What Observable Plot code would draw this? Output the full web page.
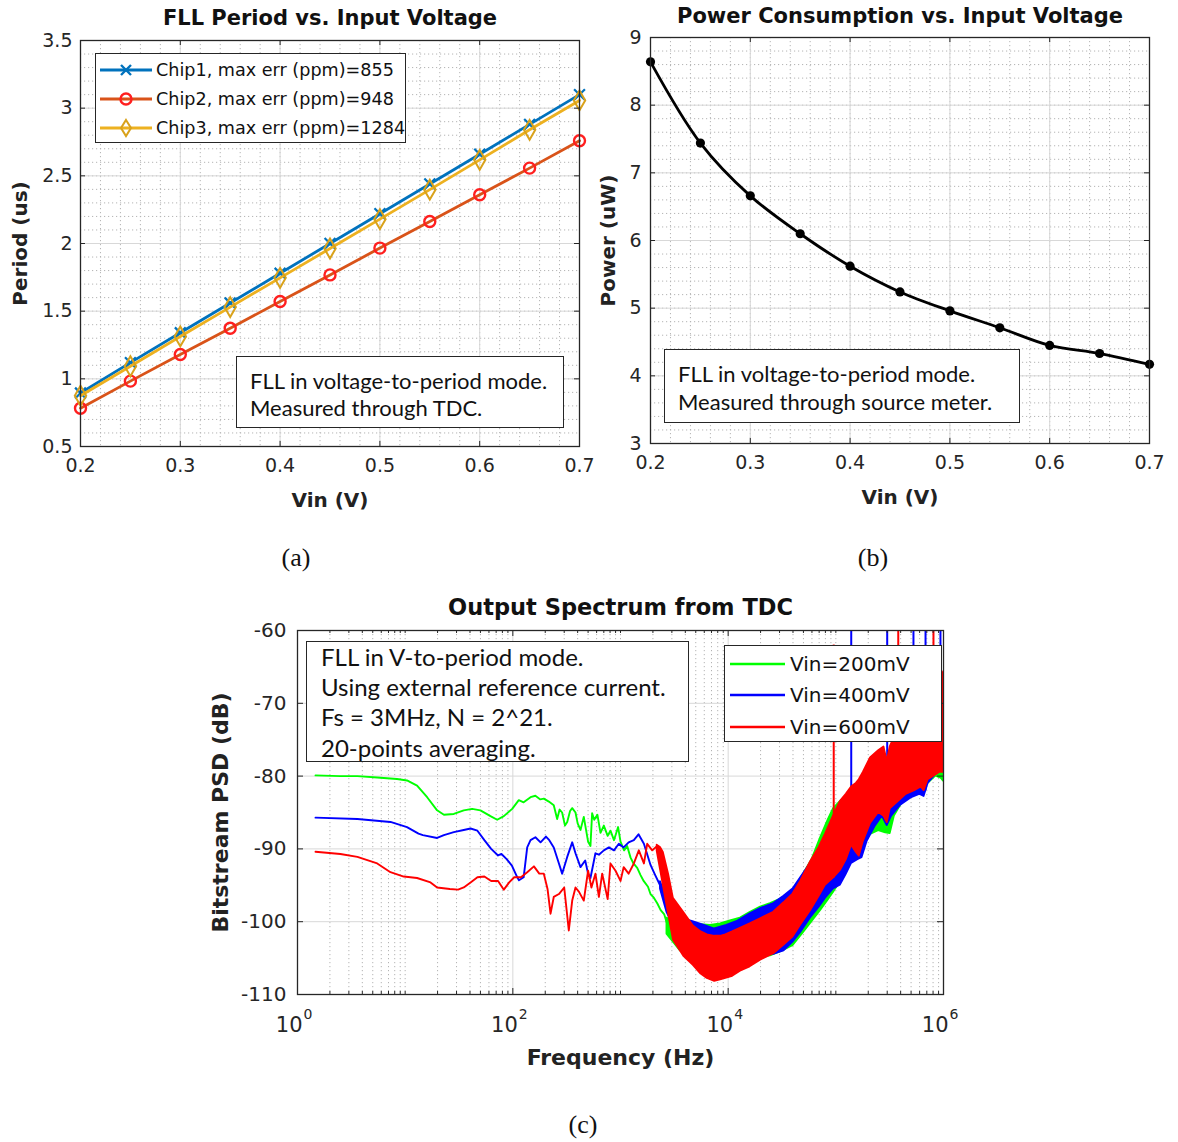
<!DOCTYPE html>
<html><head><meta charset="utf-8">
<script src="https://cdn.jsdelivr.net/npm/d3@7"></script>
<script src="https://cdn.jsdelivr.net/npm/@observablehq/plot@0.6"></script>
<style>
body{margin:0;background:#fff;}
#root{position:relative;width:1178px;height:1142px;background:#fff;overflow:hidden;}
.box{position:absolute;background:#fff;border:1.5px solid #262626;box-sizing:border-box;}
.ln{position:absolute;white-space:nowrap;color:#111;}
.note{font-family:Lato,"Open Sans",sans-serif;font-size:22px;}
.leg{font-family:"DejaVu Sans",sans-serif;}
.cap{position:absolute;font-family:"Liberation Serif","Times New Roman",serif;font-size:26px;color:#111;transform:translate(-50%,-50%);white-space:nowrap;}
</style></head>
<body><div id="root"></div>
<script>
// ---------------- data ----------------
const vin = [0.2,0.25,0.3,0.35,0.4,0.45,0.5,0.55,0.6,0.65,0.7];
const chip1Period = [0.895,1.12,1.34,1.56,1.78,2.00,2.22,2.44,2.66,2.88,3.10];
const chip2Period = [0.783,0.983,1.18,1.374,1.571,1.768,1.966,2.163,2.36,2.557,2.759];
const chip3Period = [0.875,1.093,1.313,1.53,1.746,1.963,2.18,2.398,2.618,2.84,3.057];
const chipNames = ["Chip1, max err (ppm)=855","Chip2, max err (ppm)=948","Chip3, max err (ppm)=1284"];
const powerUW = [8.64,7.44,6.66,6.10,5.62,5.24,4.96,4.71,4.45,4.33,4.17];

const vinTicks = [0.2,0.3,0.4,0.5,0.6,0.7];
const periodTicks = [0.5,1,1.5,2,2.5,3,3.5];
const powerTicks = [3,4,5,6,7,8,9];
const psdTicks = [-110,-100,-90,-80,-70,-60];
const freqTicks = [1,100,1e4,1e6];
const freqTickExp = ["0","2","4","6"];
const vinNames = ["Vin=200mV","Vin=400mV","Vin=600mV"];

// spectrum: low-frequency trace [Hz, dB]
const green200Line = [[1.47,-79.9],[2.5,-80.0],[3.6,-80.0],[5.5,-80.2],[8.4,-80.4],[10.4,-80.6],[12.9,-81.3],[16,-82.9],[19.8,-84.7],[22.9,-85.3],[28.3,-85.2],[35,-84.7],[41.9,-84.5],[50,-84.7],[62,-85.5],[71.6,-86.0],[82.5,-85.5],[98.6,-84.5],[113.6,-83.3],[126,-83.6],[146,-82.9],[162,-82.7],[180,-83.2],[194,-83.1],[216,-83.5],[240,-84.0],[258,-85.9],[272,-84.6],[287,-85.0],[305,-86.8],[320,-86.3],[340,-84.8],[356,-84.4],[382,-85.0],[400,-86.5],[425,-87.4],[456,-85.6],[480,-87.5],[500,-89.0],[526,-89.6],[545,-85.1],[570,-86.0],[610,-85.3],[652,-87.8],[700,-86.8],[760,-88.2],[807,-87.5],[870,-88.8],[950,-87.0],[1000,-89.0],[1080,-90.2],[1153,-89.6],[1240,-91.2],[1320,-92.0],[1430,-92.6],[1535,-93.6],[1640,-94.4],[1800,-95.2],[1900,-96.2],[2040,-96.7],[2200,-97.5],[2360,-98.4],[2550,-99.0],[2700,-100.2]];
const blue400Line = [[1.47,-85.7],[3.6,-85.9],[7.3,-86.3],[10.4,-87.0],[13.3,-87.9],[14.6,-88.1],[19.8,-88.5],[22.9,-88.1],[28.3,-87.7],[35,-87.4],[40.5,-87.2],[46.9,-87.5],[54.4,-88.8],[62.9,-90.0],[72.9,-90.9],[78.4,-90.7],[87.6,-91.4],[98,-92.3],[110,-93.9],[114,-94.3],[126,-93.9],[136,-89.8],[146,-88.8],[162,-88.4],[181,-89.1],[203,-88.3],[218,-88.8],[240,-89.8],[268,-92.0],[287,-93.4],[320,-91.1],[356,-89.1],[382,-90.6],[425,-92.5],[470,-91.6],[500,-93.4],[526,-94.0],[560,-92.0],[585,-90.6],[630,-90.8],[700,-90.2],[780,-89.8],[870,-90.2],[965,-89.3],[1070,-89.8],[1190,-89.1],[1330,-88.8],[1470,-88.0],[1650,-89.3],[1900,-92.2],[2100,-93.6],[2350,-95.1]];
const red600Line = [[1.47,-90.4],[2.5,-90.7],[3.6,-91.1],[5.5,-92.0],[7.3,-93.2],[9.7,-93.8],[12.9,-94.0],[17.2,-94.6],[19.8,-95.3],[26,-95.5],[31,-95.6],[35,-95.3],[40.5,-94.6],[46.9,-93.9],[54.4,-93.8],[62.9,-94.4],[72.9,-94.4],[82.5,-95.6],[92.5,-94.6],[103,-93.9],[119,-93.9],[136,-93.2],[157,-92.4],[176,-93.4],[194,-93.4],[210,-95.5],[224,-98.9],[240,-96.6],[268,-96.2],[300,-95.3],[331,-101.2],[356,-97.1],[382,-95.3],[412,-95.9],[456,-97.1],[500,-93.0],[537,-95.3],[585,-93.4],[630,-96.6],[676,-93.4],[760,-96.9],[807,-92.0],[899,-93.0],[1000,-94.4],[1070,-92.5],[1190,-93.4],[1330,-92.0],[1480,-90.2],[1650,-92.0],[1770,-89.3],[1970,-90.2],[2190,-89.6]];

// spectrum: noisy band [Hz, low dB, high dB]
const green200Band = [[2700,-101.7,-99.5],[3100,-102.8,-100.0],[3600,-104.0,-100.2],[4470,-104.5,-100.3],[5500,-104.8,-100.4],[6860,-105.0,-100.5],[8500,-105.0,-100.3],[10500,-105.0,-99.9],[13000,-105.0,-99.5],[16100,-105.0,-98.7],[20000,-104.9,-98.0],[24700,-104.7,-97.5],[32000,-104.0,-96.8],[40000,-103.3,-95.7],[50000,-101.5,-93.5],[60000,-100.0,-91.5],[72000,-98.5,-88.5],[85000,-97.0,-86.0],[95000,-96.0,-84.5],[110000,-94.5,-83.5],[130000,-92.5,-82.5],[160000,-90.5,-81.5],[190000,-89.0,-80.5],[210000,-88.0,-80.0],[250000,-87.5,-79.0],[290000,-87.8,-79.5],[320000,-87.9,-80.5],[350000,-85.5,-77.0],[420000,-83.5,-74.0],[550000,-82.0,-72.0],[660000,-81.5,-73.0],[720000,-81.0,-71.0],[850000,-80.0,-68.5],[950000,-80.3,-69.0],[1000000,-80.7,-70.0]];
const blue400Band = [[2350,-95.5,-94.5],[2700,-98.7,-96.9],[3100,-100.5,-98.0],[3620,-102.3,-99.5],[4700,-103.5,-100.0],[6000,-104.0,-100.5],[7500,-104.2,-101.0],[9700,-104.2,-100.5],[12000,-104.0,-100.0],[16000,-104.0,-98.9],[20000,-104.2,-98.2],[26500,-104.5,-97.5],[33000,-104.0,-96.5],[40000,-102.8,-95.5],[47000,-101.5,-94.0],[58200,-99.5,-92.0],[70000,-98.0,-90.5],[80000,-96.8,-88.8],[95000,-95.5,-86.5],[110000,-95.0,-85.0],[125000,-93.5,-84.0],[140000,-92.0,-82.5],[160000,-91.5,-81.5],[175000,-91.2,-81.0],[195000,-89.0,-79.5],[230000,-87.0,-78.5],[270000,-85.5,-77.5],[300000,-86.8,-79.0],[330000,-85.5,-76.5],[400000,-84.0,-74.0],[500000,-83.0,-72.0],[600000,-82.5,-71.0],[660000,-82.8,-72.5],[720000,-81.0,-69.5],[820000,-80.0,-67.5],[920000,-79.0,-67.0],[1000000,-78.5,-67.0]];
const red600Band = [[2190,-90.3,-89.5],[2350,-92.8,-89.8],[2500,-95.0,-90.5],[2800,-99.0,-93.5],[3100,-102.5,-96.8],[3900,-104.8,-98.8],[4750,-106.0,-100.6],[5600,-107.2,-101.4],[6400,-107.8,-101.8],[7500,-108.2,-102.0],[8500,-108.0,-102.0],[9500,-107.8,-101.8],[11000,-107.5,-101.4],[13000,-106.8,-100.9],[16000,-106.2,-100.3],[20000,-105.3,-99.6],[26500,-104.4,-98.7],[33000,-103.2,-97.4],[40000,-102.1,-96.2],[47000,-100.5,-94.5],[58200,-98.5,-91.8],[70000,-96.5,-89.8],[80000,-95.0,-88.0],[95000,-94.0,-85.5],[110000,-93.0,-83.5],[125000,-91.5,-82.5],[140000,-89.5,-81.5],[155000,-90.5,-81.0],[165000,-91.0,-80.5],[180000,-89.0,-79.5],[210000,-86.5,-77.5],[250000,-85.0,-76.5],[280000,-85.5,-76.0],[300000,-86.4,-78.0],[320000,-84.5,-76.0],[380000,-83.5,-73.5],[450000,-82.5,-71.5],[540000,-82.0,-70.5],[620000,-81.5,-70.0],[660000,-82.0,-71.5],[720000,-80.5,-68.5],[820000,-80.0,-66.0],[920000,-79.5,-65.0],[1000000,-79.5,-66.0]];

// spectral spurs [Hz, from dB, to dB]
const blue400Spurs = [[139000,-90,-60],[300000,-86,-60],[526000,-82,-60],[681000,-82,-60],[937000,-79,-60]];
const red600Spurs = [[95600,-94,-62],[380000,-82,-60],[807000,-79,-60]];

// ---------------- helpers ----------------
const INK = "#262626";
const gMinor = {stroke:"#b4b4b4", strokeDasharray:"1.2,2.8", strokeWidth:1};
const gMajor = {stroke:"#d8d8d8", strokeWidth:1};
const root = document.getElementById("root");

function place(el, left, top){ el.style.position="absolute"; el.style.left=left+"px"; el.style.top=top+"px"; root.appendChild(el); }
function inward(xVals, yVals, iw, ih, len){
  const m = [];
  if (xVals){ m.push(Plot.tickX(xVals,{x:d=>d, insetTop:ih-len, stroke:INK}));
              m.push(Plot.tickX(xVals,{x:d=>d, insetBottom:ih-len, stroke:INK})); }
  if (yVals){ m.push(Plot.tickY(yVals,{y:d=>d, insetLeft:iw-len, stroke:INK}));
              m.push(Plot.tickY(yVals,{y:d=>d, insetRight:iw-len, stroke:INK})); }
  return m;
}
const baseStyle = {fontFamily:"'DejaVu Sans',sans-serif", fontSize:"19px", color:INK, background:"transparent", overflow:"visible"};
const mid = {textAnchor:"middle", lineAnchor:"middle"};
function titleMark(t, dy, size){ return Plot.text([t],{text:d=>d, frameAnchor:"top", dy, ...mid, fontWeight:"bold", fontSize:size, fill:"#111"}); }
function xLabel(t, dy, size){ return Plot.text([t],{text:d=>d, frameAnchor:"bottom", dy, ...mid, fontWeight:"bold", fontSize:size, fill:"#222"}); }
function yLabel(t, dx, size){ return Plot.text([t],{text:d=>d, frameAnchor:"left", dx, rotate:-90, ...mid, fontWeight:"bold", fontSize:size, fill:"#222"}); }

// ---------------- panel (a) ----------------
{
  const iw = 499, ih = 406;
  const rows = vin.map((v,i)=>({v, c1:chip1Period[i], c2:chip2Period[i], c3:chip3Period[i]}));
  const svg = Plot.plot({
    width:600, height:520, marginLeft:80, marginRight:21, marginTop:40, marginBottom:74,
    x:{domain:[0.2,0.7]}, y:{domain:[0.5,3.5]}, style:baseStyle,
    marks:[
      Plot.ruleX(d3.range(0.2,0.7001,0.02),{x:d=>d,...gMinor}),
      Plot.ruleY(d3.range(0.5,3.5001,0.1),{y:d=>d,...gMinor}),
      Plot.ruleX(vinTicks,{x:d=>d,...gMajor}),
      Plot.ruleY(periodTicks,{y:d=>d,...gMajor}),
      Plot.line(rows,{x:"v",y:"c1",stroke:"#0072BD",strokeWidth:2.8}),
      Plot.dot(rows,{x:"v",y:"c1",symbol:"times",r:5,stroke:"#0072BD",strokeWidth:2.2}),
      Plot.line(rows,{x:"v",y:"c2",stroke:"#D95319",strokeWidth:2.8}),
      Plot.dot(rows,{x:"v",y:"c2",symbol:"circle",r:5.5,stroke:"#ff1f1f",strokeWidth:2.4}),
      Plot.line(rows,{x:"v",y:"c3",stroke:"#EDB120",strokeWidth:2.8}),
      Plot.dot(rows,{x:"v",y:"c3",symbol:"diamond",r:6,stroke:"#D9A21B",strokeWidth:2}),
      Plot.frame({stroke:INK,strokeWidth:1.3}),
      ...inward(vinTicks, periodTicks, iw, ih, 5),
      Plot.axisX({ticks:vinTicks, tickSize:0, tickPadding:12, tickFormat:d=>String(d), label:null}),
      Plot.axisY({ticks:periodTicks, tickSize:0, tickPadding:8, tickFormat:d=>String(d), label:null}),
      titleMark("FLL Period vs. Input Voltage",-22,21),
      xLabel("Vin (V)",54,20),
      yLabel("Period (us)",-60,20)
    ]
  });
  place(svg,0,0);
}

// ---------------- panel (b) ----------------
{
  const iw = 499, ih = 406;
  const rows = vin.map((v,i)=>({v, p:powerUW[i]}));
  const svg = Plot.plot({
    width:588, height:520, marginLeft:60, marginRight:29, marginTop:37, marginBottom:77,
    x:{domain:[0.2,0.7]}, y:{domain:[3,9]}, style:baseStyle,
    marks:[
      Plot.ruleX(d3.range(0.2,0.7001,0.02),{x:d=>d,...gMinor}),
      Plot.ruleY(d3.range(3,9.001,0.2),{y:d=>d,...gMinor}),
      Plot.ruleX(vinTicks,{x:d=>d,...gMajor}),
      Plot.ruleY(powerTicks,{y:d=>d,...gMajor}),
      Plot.line(rows,{x:"v",y:"p",stroke:"#000",strokeWidth:2.8,curve:"catmull-rom"}),
      Plot.dot(rows,{x:"v",y:"p",r:4.6,fill:"#000"}),
      Plot.frame({stroke:INK,strokeWidth:1.3}),
      ...inward(vinTicks, powerTicks, iw, ih, 5),
      Plot.axisX({ticks:vinTicks, tickSize:0, tickPadding:12, tickFormat:d=>String(d), label:null}),
      Plot.axisY({ticks:powerTicks, tickSize:0, tickPadding:9, tickFormat:d=>String(d), label:null}),
      titleMark("Power Consumption vs. Input Voltage",-21,21),
      xLabel("Vin (V)",54,20),
      yLabel("Power (uW)",-42,20)
    ]
  });
  place(svg,590,0);
}

// ---------------- panel (c) ----------------
{
  const iw = 646, ih = 364;
  const fMinor = [];
  for (let k=0;k<6;k++){ for (let m=2;m<=9;m++) fMinor.push(m*Math.pow(10,k)); }
  fMinor.push(10,1000,1e5);
  const X = d=>d[0];
  const series = [
    {line:green200Line, band:green200Band, spurs:[], c:"#00ff00"},
    {line:blue400Line, band:blue400Band, spurs:blue400Spurs, c:"#0000ff"},
    {line:red600Line, band:red600Band, spurs:red600Spurs, c:"#ff0000"}
  ];
  const dataMarks = [];
  for (const s of series){
    dataMarks.push(Plot.line(s.line,{x:X,y:d=>d[1],stroke:s.c,strokeWidth:1.9,clip:true}));
    dataMarks.push(Plot.areaY(s.band,{x:X,y1:d=>d[1],y2:d=>d[2],fill:s.c,stroke:s.c,strokeWidth:1.8,clip:true}));
    dataMarks.push(Plot.ruleX(s.spurs,{x:X,y1:d=>d[1],y2:d=>d[2],stroke:s.c,strokeWidth:2,clip:true}));
  }
  const svg = Plot.plot({
    width:780, height:490, marginLeft:107, marginRight:27, marginTop:45, marginBottom:81,
    x:{type:"log", domain:[1,1e6], axis:null}, y:{domain:[-110,-60]}, style:baseStyle,
    marks:[
      Plot.ruleX(fMinor,{x:d=>d,...gMinor}),
      Plot.ruleX(freqTicks,{x:d=>d,...gMajor}),
      Plot.ruleY(psdTicks,{y:d=>d,...gMajor}),
      ...dataMarks,
      Plot.frame({stroke:INK,strokeWidth:1.3}),
      ...inward(fMinor, null, iw, ih, 3),
      ...inward(freqTicks, psdTicks, iw, ih, 6),
      Plot.axisY({ticks:psdTicks, tickSize:0, tickPadding:11, tickFormat:d=>String(d), label:null, fontSize:20}),
      Plot.text(freqTicks,{x:d=>d, frameAnchor:"bottom", dy:31, dx:5, textAnchor:"end", lineAnchor:"middle", text:()=>"10", fontSize:21, fill:INK}),
      Plot.text(freqTicks,{x:d=>d, frameAnchor:"bottom", dy:20, dx:6, textAnchor:"start", lineAnchor:"middle", text:(d,i)=>freqTickExp[i], fontSize:14, fill:INK}),
      titleMark("Output Spectrum from TDC",-23,22.5),
      xLabel("Frequency (Hz)",63,22),
      yLabel("Bitstream PSD (dB)",-77,22)
    ]
  });
  place(svg,190,585);
}

// ---------------- overlays: legends, notes, captions ----------------
function box(l,t,w,h){ const d=document.createElement("div"); d.className="box"; d.style.left=l+"px"; d.style.top=t+"px"; d.style.width=w+"px"; d.style.height=h+"px"; root.appendChild(d); return d; }
function line(parent, cls, text, left, cy, lh, size){
  const d=document.createElement("div"); d.className="ln "+cls; d.textContent=text;
  d.style.left=left+"px"; d.style.top=(cy-lh/2)+"px"; d.style.lineHeight=lh+"px"; if(size) d.style.fontSize=size+"px";
  parent.appendChild(d); return d;
}
function swatch(parent, left, cy, w, color, marker, mcolor){
  const ns="http://www.w3.org/2000/svg";
  const s=document.createElementNS(ns,"svg"); s.setAttribute("width",w); s.setAttribute("height",20);
  s.style.position="absolute"; s.style.left=left+"px"; s.style.top=(cy-10)+"px"; s.style.overflow="visible";
  const l=document.createElementNS(ns,"line"); l.setAttribute("x1",0); l.setAttribute("x2",w); l.setAttribute("y1",10); l.setAttribute("y2",10);
  l.setAttribute("stroke",color); l.setAttribute("stroke-width",marker?2.8:2.4); s.appendChild(l);
  const cx=w/2;
  if (marker==="times"){ const p=document.createElementNS(ns,"path"); p.setAttribute("d",`M${cx-5},5L${cx+5},15M${cx-5},15L${cx+5},5`); p.setAttribute("stroke",mcolor); p.setAttribute("stroke-width",2.4); s.appendChild(p); }
  if (marker==="circle"){ const c=document.createElementNS(ns,"circle"); c.setAttribute("cx",cx); c.setAttribute("cy",10); c.setAttribute("r",5.5); c.setAttribute("fill","none"); c.setAttribute("stroke",mcolor); c.setAttribute("stroke-width",2.4); s.appendChild(c); }
  if (marker==="diamond"){ const p=document.createElementNS(ns,"path"); p.setAttribute("d",`M${cx},2L${cx+5},10L${cx},18L${cx-5},10Z`); p.setAttribute("fill","none"); p.setAttribute("stroke",mcolor); p.setAttribute("stroke-width",2); s.appendChild(p); }
  parent.appendChild(s);
}

// legend (a)
{
  const b = box(95,53,311,90);
  const cols = [["#0072BD","times","#0072BD"],["#D95319","circle","#ff1f1f"],["#EDB120","diamond","#D9A21B"]];
  [16,45,74].forEach((cy,i)=>{ swatch(b,4,cy,52,cols[i][0],cols[i][1],cols[i][2]); line(b,"leg",chipNames[i],60,cy,24,17.6); });
}
// note (a)
{ const b = box(236,356,328,72);
  line(b,"note","FLL in voltage-to-period mode.",13,23,27);
  line(b,"note","Measured through TDC.",13,50,27); }
// note (b)
{ const b = box(664,349,356,74);
  line(b,"note","FLL in voltage-to-period mode.",13,23,27);
  line(b,"note","Measured through source meter.",13,51,27); }
// note (c)
{ const b = box(306,641,383,121);
  ["FLL in V-to-period mode.","Using external reference current.","Fs = 3MHz, N = 2^21.","20-points averaging."]
    .forEach((t,i)=> line(b,"note",t,14,[15,45,75,106][i],30,24));
}
// legend (c)
{ const b = box(724,645,218,97);
  ["#00ff00","#0000ff","#ff0000"].forEach((c,i)=>{ const cy=[18,49,81][i]; swatch(b,5,cy,55,c,null,null); line(b,"leg",vinNames[i],65,cy,26,20); });
}
// captions
[["(a)",296,558],["(b)",873,558],["(c)",583,1125]].forEach(([t,x,y])=>{
  const d=document.createElement("div"); d.className="cap"; d.textContent=t; d.style.left=x+"px"; d.style.top=y+"px"; root.appendChild(d);
});
</script></body></html>
